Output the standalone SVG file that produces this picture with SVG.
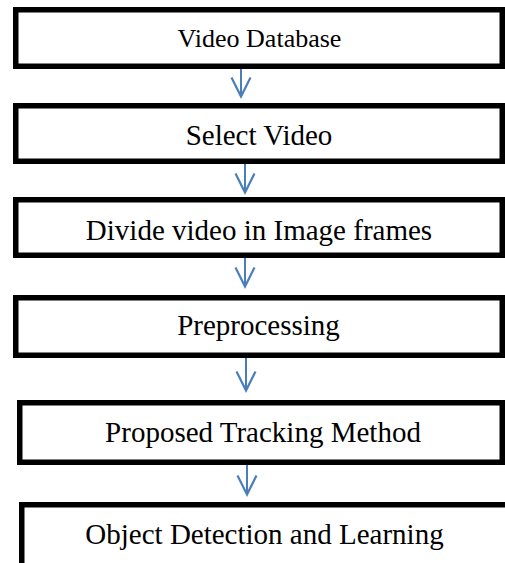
<svg xmlns="http://www.w3.org/2000/svg" width="505" height="563" viewBox="0 0 505 563">
  <style>
    .box { fill: #ffffff; stroke: #000000; stroke-width: 5.5; }
    .lbl { font-family: "Liberation Serif", "Times New Roman", serif; font-size: 29px; fill: #000000; text-anchor: middle; }
    .conn { stroke: #4a7ebb; stroke-width: 2; fill: none; }
  </style>
  <defs>
    <marker id="vhead" markerUnits="userSpaceOnUse" markerWidth="30" markerHeight="30" viewBox="-25 -15 30 30" refX="0" refY="0" orient="auto" overflow="visible">
      <path d="M-19,-9.5 L0,0 L-19,9.5" fill="none" stroke="#4a7ebb" stroke-width="2.2" stroke-linejoin="miter"/>
    </marker>
  </defs>
  <rect width="505" height="563" fill="#ffffff"/>

  <g id="node-video-database">
    <rect class="box" x="15.75" y="9.75" width="486.5" height="56.5"/>
    <text class="lbl" x="259.5" y="46.5" style="font-size:26px">Video Database</text>
  </g>
  <g id="node-select-video">
    <rect class="box" x="15.75" y="105.75" width="486.5" height="55.5"/>
    <text class="lbl" x="259" y="144.5">Select Video</text>
  </g>
  <g id="node-divide-video">
    <rect class="box" x="15.75" y="199.75" width="486.5" height="55.5"/>
    <text class="lbl" x="259" y="240">Divide video in Image frames</text>
  </g>
  <g id="node-preprocessing">
    <rect class="box" x="15.75" y="297.75" width="486.5" height="57.5"/>
    <text class="lbl" x="258.5" y="335">Preprocessing</text>
  </g>
  <g id="node-proposed-tracking">
    <rect class="box" x="19.75" y="402.75" width="482.5" height="59.5"/>
    <text class="lbl" x="263" y="442">Proposed Tracking Method</text>
  </g>
  <g id="node-object-detection">
    <rect class="box" x="21.75" y="504.75" width="500" height="80"/>
    <text class="lbl" x="264.5" y="544">Object Detection and Learning</text>
  </g>

  <g id="connectors">
    <line class="conn" x1="241" y1="69" x2="241" y2="96.5" marker-end="url(#vhead)"/>
    <line class="conn" x1="245" y1="164" x2="245" y2="192.5" marker-end="url(#vhead)"/>
    <line class="conn" x1="245" y1="258" x2="245" y2="286.5" marker-end="url(#vhead)"/>
    <line class="conn" x1="246" y1="358" x2="246" y2="390.5" marker-end="url(#vhead)"/>
    <line class="conn" x1="247" y1="465" x2="247" y2="494.5" marker-end="url(#vhead)"/>
  </g>
</svg>
